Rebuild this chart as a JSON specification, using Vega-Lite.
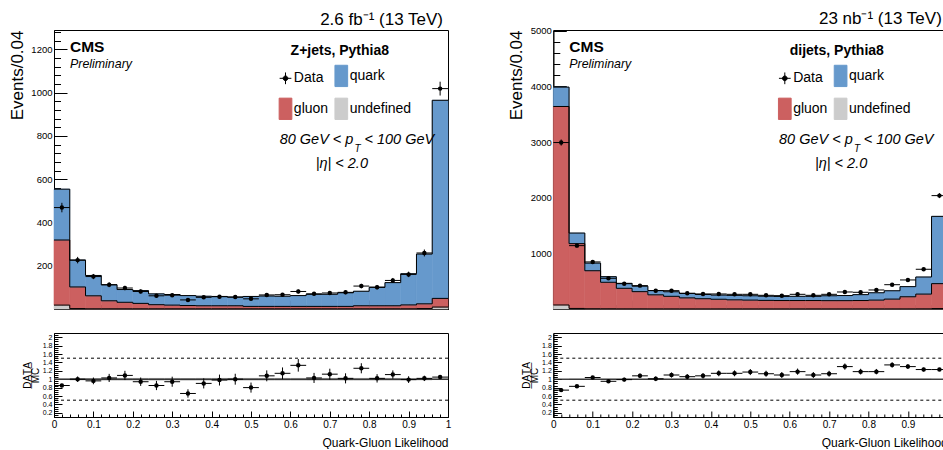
{
"$schema": "https://vega.github.io/schema/vega-lite/v6.json",
"background": "white",
"padding": {"left": 7, "top": 9, "right": 0, "bottom": 0},
"config": {
  "view": {"stroke": "black", "strokeWidth": 1},
  "font": "Liberation Sans",
  "axis": {"domainColor": "black", "domainWidth": 1, "tickColor": "black", "tickWidth": 1, "labelColor": "black", "titleColor": "black", "grid": false, "labelFont": "Liberation Sans", "titleFont": "Liberation Sans", "titleFontWeight": "normal", "labelOverlap": false, "labelFlush": false, "labelBound": false, "tickCount": 200},
  "legend": {"padding": 0},
  "text": {"font": "Liberation Sans", "color": "black"}
},
"datasets": {
  "mcL": [
    {"lo":0,"hi":0.04,"1undefined":18,"2gluon":301,"3quark":235},
    {"lo":0.04,"hi":0.08,"1undefined":2,"2gluon":100,"3quark":124},
    {"lo":0.08,"hi":0.12,"1undefined":1,"2gluon":60,"3quark":94},
    {"lo":0.12,"hi":0.16,"1undefined":1,"2gluon":37,"3quark":74},
    {"lo":0.16,"hi":0.2,"1undefined":1,"2gluon":30,"3quark":59},
    {"lo":0.2,"hi":0.24,"1undefined":1,"2gluon":25,"3quark":59},
    {"lo":0.24,"hi":0.28,"1undefined":1,"2gluon":19,"3quark":50},
    {"lo":0.28,"hi":0.32,"1undefined":1,"2gluon":17,"3quark":49},
    {"lo":0.32,"hi":0.36,"1undefined":1,"2gluon":15,"3quark":46},
    {"lo":0.36,"hi":0.4,"1undefined":1,"2gluon":14,"3quark":44},
    {"lo":0.4,"hi":0.44,"1undefined":1,"2gluon":14,"3quark":43},
    {"lo":0.44,"hi":0.48,"1undefined":1,"2gluon":14,"3quark":40},
    {"lo":0.48,"hi":0.52,"1undefined":1,"2gluon":11,"3quark":46},
    {"lo":0.52,"hi":0.56,"1undefined":1,"2gluon":11,"3quark":48},
    {"lo":0.56,"hi":0.6,"1undefined":1,"2gluon":11,"3quark":47},
    {"lo":0.6,"hi":0.64,"1undefined":1,"2gluon":11,"3quark":50},
    {"lo":0.64,"hi":0.68,"1undefined":1,"2gluon":11,"3quark":56},
    {"lo":0.68,"hi":0.72,"1undefined":1,"2gluon":11,"3quark":56},
    {"lo":0.72,"hi":0.76,"1undefined":1,"2gluon":11,"3quark":63},
    {"lo":0.76,"hi":0.8,"1undefined":1,"2gluon":14,"3quark":67},
    {"lo":0.8,"hi":0.84,"1undefined":1,"2gluon":14,"3quark":85},
    {"lo":0.84,"hi":0.88,"1undefined":1,"2gluon":14,"3quark":107},
    {"lo":0.88,"hi":0.92,"1undefined":1,"2gluon":18,"3quark":144},
    {"lo":0.92,"hi":0.96,"1undefined":2,"2gluon":22,"3quark":230},
    {"lo":0.96,"hi":1,"1undefined":9,"2gluon":40,"3quark":916}
  ],
  "mcR": [
    {"lo":0,"hi":0.04,"1undefined":72,"2gluon":3568,"3quark":348},
    {"lo":0.04,"hi":0.08,"1undefined":10,"2gluon":1165,"3quark":190},
    {"lo":0.08,"hi":0.12,"1undefined":5,"2gluon":683,"3quark":137},
    {"lo":0.12,"hi":0.16,"1undefined":4,"2gluon":476,"3quark":101},
    {"lo":0.16,"hi":0.2,"1undefined":3,"2gluon":369,"3quark":89},
    {"lo":0.2,"hi":0.24,"1undefined":3,"2gluon":309,"3quark":98},
    {"lo":0.24,"hi":0.28,"1undefined":2,"2gluon":253,"3quark":77},
    {"lo":0.28,"hi":0.32,"1undefined":2,"2gluon":226,"3quark":82},
    {"lo":0.32,"hi":0.36,"1undefined":2,"2gluon":198,"3quark":80},
    {"lo":0.36,"hi":0.4,"1undefined":2,"2gluon":183,"3quark":77},
    {"lo":0.4,"hi":0.44,"1undefined":2,"2gluon":173,"3quark":75},
    {"lo":0.44,"hi":0.48,"1undefined":2,"2gluon":163,"3quark":80},
    {"lo":0.48,"hi":0.52,"1undefined":2,"2gluon":158,"3quark":78},
    {"lo":0.52,"hi":0.56,"1undefined":2,"2gluon":153,"3quark":75},
    {"lo":0.56,"hi":0.6,"1undefined":2,"2gluon":150,"3quark":74},
    {"lo":0.6,"hi":0.64,"1undefined":2,"2gluon":150,"3quark":76},
    {"lo":0.64,"hi":0.68,"1undefined":2,"2gluon":150,"3quark":76},
    {"lo":0.68,"hi":0.72,"1undefined":2,"2gluon":148,"3quark":88},
    {"lo":0.72,"hi":0.76,"1undefined":2,"2gluon":148,"3quark":92},
    {"lo":0.76,"hi":0.8,"1undefined":2,"2gluon":150,"3quark":106},
    {"lo":0.8,"hi":0.84,"1undefined":2,"2gluon":158,"3quark":132},
    {"lo":0.84,"hi":0.88,"1undefined":2,"2gluon":176,"3quark":150},
    {"lo":0.88,"hi":0.92,"1undefined":2,"2gluon":218,"3quark":182},
    {"lo":0.92,"hi":0.96,"1undefined":3,"2gluon":265,"3quark":307},
    {"lo":0.96,"hi":1,"1undefined":8,"2gluon":448,"3quark":1209}
  ],
  "dL": [
    {"lo":0,"hi":0.04,"x":0.02,"n":469,"nlo":447,"nhi":491,"r":0.85,"rlo":0.81,"rhi":0.89,"blo":0.98,"bhi":1.02},
    {"lo":0.04,"hi":0.08,"x":0.06,"n":226,"nlo":211,"nhi":241,"r":1.0,"rlo":0.934,"rhi":1.066,"blo":0.975,"bhi":1.025},
    {"lo":0.08,"hi":0.12,"x":0.1,"n":150,"nlo":138,"nhi":162,"r":0.96,"rlo":0.88,"rhi":1.04,"blo":0.97,"bhi":1.03},
    {"lo":0.12,"hi":0.16,"x":0.14,"n":112,"nlo":101,"nhi":123,"r":1.03,"rlo":0.933,"rhi":1.127,"blo":0.97,"bhi":1.03},
    {"lo":0.16,"hi":0.2,"x":0.18,"n":97,"nlo":87,"nhi":107,"r":1.09,"rlo":0.98,"rhi":1.2,"blo":0.97,"bhi":1.03},
    {"lo":0.2,"hi":0.24,"x":0.22,"n":81,"nlo":72,"nhi":90,"r":0.94,"rlo":0.84,"rhi":1.04,"blo":0.97,"bhi":1.03},
    {"lo":0.24,"hi":0.28,"x":0.26,"n":61,"nlo":53,"nhi":69,"r":0.85,"rlo":0.74,"rhi":0.96,"blo":0.97,"bhi":1.03},
    {"lo":0.28,"hi":0.32,"x":0.3,"n":64,"nlo":56,"nhi":72,"r":0.94,"rlo":0.82,"rhi":1.06,"blo":0.97,"bhi":1.03},
    {"lo":0.32,"hi":0.36,"x":0.34,"n":42,"nlo":35.5,"nhi":48.5,"r":0.66,"rlo":0.56,"rhi":0.76,"blo":0.97,"bhi":1.03},
    {"lo":0.36,"hi":0.4,"x":0.38,"n":54,"nlo":46.6,"nhi":61.4,"r":0.9,"rlo":0.78,"rhi":1.02,"blo":0.97,"bhi":1.03},
    {"lo":0.4,"hi":0.44,"x":0.42,"n":57,"nlo":49.5,"nhi":64.5,"r":0.98,"rlo":0.85,"rhi":1.11,"blo":0.97,"bhi":1.03},
    {"lo":0.44,"hi":0.48,"x":0.46,"n":55,"nlo":47.6,"nhi":62.4,"r":1.0,"rlo":0.87,"rhi":1.13,"blo":0.97,"bhi":1.03},
    {"lo":0.48,"hi":0.52,"x":0.5,"n":47,"nlo":40.1,"nhi":53.9,"r":0.8,"rlo":0.68,"rhi":0.92,"blo":0.97,"bhi":1.03},
    {"lo":0.52,"hi":0.56,"x":0.54,"n":65,"nlo":57,"nhi":73,"r":1.08,"rlo":0.95,"rhi":1.21,"blo":0.97,"bhi":1.03},
    {"lo":0.56,"hi":0.6,"x":0.58,"n":66,"nlo":58,"nhi":74,"r":1.14,"rlo":1.0,"rhi":1.28,"blo":0.97,"bhi":1.03},
    {"lo":0.6,"hi":0.64,"x":0.62,"n":81,"nlo":72,"nhi":90,"r":1.33,"rlo":1.18,"rhi":1.48,"blo":0.97,"bhi":1.03},
    {"lo":0.64,"hi":0.68,"x":0.66,"n":70,"nlo":61.6,"nhi":78.4,"r":1.03,"rlo":0.91,"rhi":1.15,"blo":0.97,"bhi":1.03},
    {"lo":0.68,"hi":0.72,"x":0.7,"n":74,"nlo":65.4,"nhi":82.6,"r":1.12,"rlo":0.99,"rhi":1.25,"blo":0.97,"bhi":1.03},
    {"lo":0.72,"hi":0.76,"x":0.74,"n":77,"nlo":68.2,"nhi":85.8,"r":1.02,"rlo":0.9,"rhi":1.14,"blo":0.97,"bhi":1.03},
    {"lo":0.76,"hi":0.8,"x":0.78,"n":106,"nlo":95.7,"nhi":116.3,"r":1.26,"rlo":1.14,"rhi":1.38,"blo":0.97,"bhi":1.03},
    {"lo":0.8,"hi":0.84,"x":0.82,"n":101,"nlo":91,"nhi":111,"r":1.02,"rlo":0.92,"rhi":1.12,"blo":0.97,"bhi":1.03},
    {"lo":0.84,"hi":0.88,"x":0.86,"n":132,"nlo":120.5,"nhi":143.5,"r":1.11,"rlo":1.01,"rhi":1.21,"blo":0.97,"bhi":1.03},
    {"lo":0.88,"hi":0.92,"x":0.9,"n":160,"nlo":147.4,"nhi":172.6,"r":0.99,"rlo":0.91,"rhi":1.07,"blo":0.975,"bhi":1.025},
    {"lo":0.92,"hi":0.96,"x":0.94,"n":259,"nlo":243,"nhi":275,"r":1.02,"rlo":0.956,"rhi":1.084,"blo":0.975,"bhi":1.025},
    {"lo":0.96,"hi":1,"x":0.98,"n":1019,"nlo":987,"nhi":1051,"r":1.05,"rlo":1.017,"rhi":1.083,"blo":0.98,"bhi":1.02}
  ],
  "dR": [
    {"lo":0,"hi":0.04,"x":0.02,"n":2992,"nlo":2937,"nhi":3047,"r":0.74,"rlo":0.726,"rhi":0.754,"blo":0.99,"bhi":1.01},
    {"lo":0.04,"hi":0.08,"x":0.06,"n":1139,"nlo":1105,"nhi":1173,"r":0.83,"rlo":0.805,"rhi":0.855,"blo":0.985,"bhi":1.015},
    {"lo":0.08,"hi":0.12,"x":0.1,"n":846,"nlo":817,"nhi":875,"r":1.04,"rlo":1.004,"rhi":1.076,"blo":0.985,"bhi":1.015},
    {"lo":0.12,"hi":0.16,"x":0.14,"n":552,"nlo":528.5,"nhi":575.5,"r":0.95,"rlo":0.91,"rhi":0.99,"blo":0.985,"bhi":1.015},
    {"lo":0.16,"hi":0.2,"x":0.18,"n":455,"nlo":434,"nhi":476,"r":0.99,"rlo":0.944,"rhi":1.036,"blo":0.985,"bhi":1.015},
    {"lo":0.2,"hi":0.24,"x":0.22,"n":420,"nlo":399.5,"nhi":440.5,"r":1.08,"rlo":1.027,"rhi":1.133,"blo":0.985,"bhi":1.015},
    {"lo":0.24,"hi":0.28,"x":0.26,"n":330,"nlo":312,"nhi":348,"r":1.01,"rlo":0.954,"rhi":1.066,"blo":0.985,"bhi":1.015},
    {"lo":0.28,"hi":0.32,"x":0.3,"n":330,"nlo":312,"nhi":348,"r":1.1,"rlo":1.04,"rhi":1.16,"blo":0.985,"bhi":1.015},
    {"lo":0.32,"hi":0.36,"x":0.34,"n":282,"nlo":265,"nhi":299,"r":1.06,"rlo":0.997,"rhi":1.123,"blo":0.985,"bhi":1.015},
    {"lo":0.36,"hi":0.4,"x":0.38,"n":270,"nlo":253.6,"nhi":286.4,"r":1.08,"rlo":1.014,"rhi":1.146,"blo":0.985,"bhi":1.015},
    {"lo":0.4,"hi":0.44,"x":0.42,"n":270,"nlo":253.6,"nhi":286.4,"r":1.14,"rlo":1.07,"rhi":1.21,"blo":0.985,"bhi":1.015},
    {"lo":0.44,"hi":0.48,"x":0.46,"n":264,"nlo":247.8,"nhi":280.2,"r":1.14,"rlo":1.07,"rhi":1.21,"blo":0.985,"bhi":1.015},
    {"lo":0.48,"hi":0.52,"x":0.5,"n":264,"nlo":247.8,"nhi":280.2,"r":1.17,"rlo":1.098,"rhi":1.242,"blo":0.985,"bhi":1.015},
    {"lo":0.52,"hi":0.56,"x":0.54,"n":246,"nlo":230.3,"nhi":261.7,"r":1.13,"rlo":1.058,"rhi":1.202,"blo":0.985,"bhi":1.015},
    {"lo":0.56,"hi":0.6,"x":0.58,"n":240,"nlo":224.5,"nhi":255.5,"r":1.1,"rlo":1.029,"rhi":1.171,"blo":0.985,"bhi":1.015},
    {"lo":0.6,"hi":0.64,"x":0.62,"n":264,"nlo":247.8,"nhi":280.2,"r":1.18,"rlo":1.107,"rhi":1.253,"blo":0.985,"bhi":1.015},
    {"lo":0.64,"hi":0.68,"x":0.66,"n":246,"nlo":230.3,"nhi":261.7,"r":1.1,"rlo":1.03,"rhi":1.17,"blo":0.985,"bhi":1.015},
    {"lo":0.68,"hi":0.72,"x":0.7,"n":264,"nlo":247.8,"nhi":280.2,"r":1.13,"rlo":1.06,"rhi":1.2,"blo":0.985,"bhi":1.015},
    {"lo":0.72,"hi":0.76,"x":0.74,"n":306,"nlo":288.5,"nhi":323.5,"r":1.3,"rlo":1.226,"rhi":1.374,"blo":0.985,"bhi":1.015},
    {"lo":0.76,"hi":0.8,"x":0.78,"n":300,"nlo":282.7,"nhi":317.3,"r":1.18,"rlo":1.112,"rhi":1.248,"blo":0.985,"bhi":1.015},
    {"lo":0.8,"hi":0.84,"x":0.82,"n":342,"nlo":323.5,"nhi":360.5,"r":1.18,"rlo":1.116,"rhi":1.244,"blo":0.985,"bhi":1.015},
    {"lo":0.84,"hi":0.88,"x":0.86,"n":437,"nlo":416,"nhi":458,"r":1.34,"rlo":1.276,"rhi":1.404,"blo":0.985,"bhi":1.015},
    {"lo":0.88,"hi":0.92,"x":0.9,"n":522,"nlo":499,"nhi":545,"r":1.3,"rlo":1.243,"rhi":1.357,"blo":0.985,"bhi":1.015},
    {"lo":0.92,"hi":0.96,"x":0.94,"n":714,"nlo":687.3,"nhi":740.7,"r":1.23,"rlo":1.184,"rhi":1.276,"blo":0.985,"bhi":1.015},
    {"lo":0.96,"hi":1,"x":0.98,"n":2038,"nlo":1993,"nhi":2083,"r":1.23,"rlo":1.203,"rhi":1.257,"blo":0.99,"bhi":1.01}
  ]
},
"columns": 2,
"spacing": {"row": 24, "column": 105.3},
"bounds": "flush",
"resolve": {"scale": {"color": "independent", "stroke": "independent", "x": "independent", "y": "independent"}, "legend": {"color": "independent"}},
"concat": [
  {
    "width": 394, "height": 279,
    "title": {"text": "2.6 fb⁻¹ (13 TeV)", "anchor": "end", "frame": "group", "fontSize": 17, "fontWeight": "normal", "font": "Liberation Sans", "baseline": "alphabetic", "offset": -15, "dx": -5, "color": "black"},
    "layer": [
      {
        "data": {"name": "mcL"},
        "transform": [
          {"fold": ["1undefined", "2gluon", "3quark"], "as": ["comp", "n"]},
          {"stack": "n", "groupby": ["lo"], "sort": [{"field": "comp", "order": "ascending"}], "as": ["n0", "n1"]}
        ],
        "mark": {"type": "rect", "strokeWidth": 0.6},
        "encoding": {
          "x": {"field": "lo", "type": "quantitative", "scale": {"domain": [0, 1], "nice": false, "zero": false},
            "axis": {"values": [0,0.02,0.04,0.06,0.08,0.1,0.12,0.14,0.16,0.18,0.2,0.22,0.24,0.26,0.28,0.3,0.32,0.34,0.36,0.38,0.4,0.42,0.44,0.46,0.48,0.5,0.52,0.54,0.56,0.58,0.6,0.62,0.64,0.66,0.68,0.7,0.72,0.74,0.76,0.78,0.8,0.82,0.84,0.86,0.88,0.9,0.92,0.94,0.96,0.98,1],
              "labels": false, "title": null, "tickCount": 200,
              "tickSize": {"condition": {"test": "abs(datum.value*10-round(datum.value*10))<0.001", "value": -9}, "value": -4.5}}},
          "x2": {"field": "hi"},
          "y": {"field": "n0", "type": "quantitative", "scale": {"domain": [0, 1290], "nice": false},
            "axis": {"values": [40,80,120,160,200,240,280,320,360,400,440,480,520,560,600,640,680,720,760,800,840,880,920,960,1000,1040,1080,1120,1160,1200,1240,1280],
              "format": "d", "labelExpr": "datum.value % 200 === 0 ? datum.label : ''", "labelFontSize": 9.5, "labelPadding": 15, "tickCount": 200,
              "tickSize": {"condition": {"test": "datum.value % 200 === 0", "value": -13}, "value": -6.5},
              "title": "Events/0.04", "titleFontSize": 17, "titleAnchor": "end", "titleAngle": -90, "titleBaseline": "alphabetic", "titleAlign": "right", "titleX": -31.8, "titleY": 0}},
          "y2": {"field": "n1"},
          "stroke": {"field": "comp", "type": "nominal", "scale": {"domain": ["0Data", "2gluon", "3quark", "1undefined"], "range": ["black", "#cc6060", "#6699cc", "#cccccc"]}, "legend": null},
          "color": {"field": "comp", "type": "nominal",
            "scale": {"domain": ["0Data", "2gluon", "3quark", "1undefined"], "range": ["black", "#cc6060", "#6699cc", "#cccccc"]},
            "legend": {"title": null, "orient": "none", "legendX": 220, "legendY": 34, "columns": 2, "columnPadding": 0.8, "rowPadding": 6.3,
              "symbolType": "M-0.596,-1H0.596V1H-0.596Z", "symbolSize": 454, "symbolStrokeColor": "black", "symbolStrokeWidth": 1, "symbolOpacity": 1,
              "labelFont": "Liberation Sans", "labelFontSize": 14, "labelColor": "black", "labelOffset": -3.15, "labelExpr": "substring(datum.label, 1)",
              "encode": {"symbols": {"update": {"stroke": {"value": "black"}, "shape": {"signal": "datum.value === '0Data' ? 'M-0.55,0H0.55M0,-0.55V0.55M0.22,0A0.22,0.22 0 1,1 -0.22,0A0.22,0.22 0 1,1 0.22,0Z' : 'M-0.596,-1H0.596V1H-0.596Z'"}}}}}}
        }
      },
      {
        "data": {"name": "mcL"},
        "transform": [
          {"fold": ["1undefined", "2gluon", "3quark"], "as": ["comp", "n"]},
          {"stack": "n", "groupby": ["lo"], "sort": [{"field": "comp", "order": "ascending"}], "as": ["n0", "n1"]},
          {"fold": ["lo", "hi"], "as": ["edge", "xe"]}
        ],
        "mark": {"type": "line", "color": "black", "strokeWidth": 1},
        "encoding": {
          "x": {"field": "xe", "type": "quantitative"},
          "y": {"field": "n1", "type": "quantitative"},
          "detail": {"field": "comp", "type": "nominal"},
          "order": [{"field": "xe", "type": "quantitative"}, {"field": "edge", "type": "nominal"}]
        }
      },
      {
        "data": {"name": "dL"},
        "mark": {"type": "rule", "color": "black", "strokeWidth": 1},
        "encoding": {"x": {"field": "lo", "type": "quantitative"}, "x2": {"field": "hi"}, "y": {"field": "n", "type": "quantitative"}}
      },
      {
        "data": {"name": "dL"},
        "mark": {"type": "rule", "color": "black", "strokeWidth": 1},
        "encoding": {"x": {"field": "x", "type": "quantitative"}, "y": {"field": "nlo", "type": "quantitative"}, "y2": {"field": "nhi"}}
      },
      {
        "data": {"name": "dL"},
        "mark": {"type": "circle", "color": "black", "opacity": 1, "size": 20},
        "encoding": {"x": {"field": "x", "type": "quantitative"}, "y": {"field": "n", "type": "quantitative"}}
      },
      {"data": {"values": [{}]}, "mark": {"type": "text", "text": "CMS", "align": "left", "baseline": "alphabetic", "fontSize": 15.5, "fontWeight": "bold"}, "encoding": {"x": {"datum": 0.0406}, "y": {"datum": 1187}}},
      {"data": {"values": [{}]}, "mark": {"type": "text", "text": "Preliminary", "align": "left", "baseline": "alphabetic", "fontSize": 12.4, "fontStyle": "italic"}, "encoding": {"x": {"datum": 0.0406}, "y": {"datum": 1116}}},
      {"data": {"values": [{}]}, "mark": {"type": "text", "text": "Z+jets, Pythia8", "align": "center", "baseline": "alphabetic", "fontSize": 14, "fontWeight": "bold"}, "encoding": {"x": {"datum": 0.7254}, "y": {"datum": 1174}}},
      {"data": {"values": [{}]}, "mark": {"type": "text", "text": "80 GeV < p", "align": "right", "baseline": "alphabetic", "fontSize": 14.5, "fontStyle": "italic"}, "encoding": {"x": {"datum": 0.760}, "y": {"datum": 763}}},
      {"data": {"values": [{}]}, "mark": {"type": "text", "text": "T", "align": "left", "baseline": "alphabetic", "fontSize": 10, "fontStyle": "italic"}, "encoding": {"x": {"datum": 0.763}, "y": {"datum": 726}}},
      {"data": {"values": [{}]}, "mark": {"type": "text", "text": "< 100 GeV", "align": "left", "baseline": "alphabetic", "fontSize": 14.5, "fontStyle": "italic"}, "encoding": {"x": {"datum": 0.788}, "y": {"datum": 763}}},
      {"data": {"values": [{}]}, "mark": {"type": "text", "text": "|η| < 2.0", "align": "center", "baseline": "alphabetic", "fontSize": 14.5, "fontStyle": "italic"}, "encoding": {"x": {"datum": 0.7305}, "y": {"datum": 651}}}
    ]
  },
  {
    "width": 394, "height": 279,
    "title": {"text": "23 nb⁻¹ (13 TeV)", "anchor": "end", "frame": "group", "fontSize": 17, "fontWeight": "normal", "font": "Liberation Sans", "baseline": "alphabetic", "offset": -15, "dx": -5.5, "color": "black"},
    "layer": [
      {
        "data": {"name": "mcR"},
        "transform": [
          {"fold": ["1undefined", "2gluon", "3quark"], "as": ["comp", "n"]},
          {"stack": "n", "groupby": ["lo"], "sort": [{"field": "comp", "order": "ascending"}], "as": ["n0", "n1"]}
        ],
        "mark": {"type": "rect", "strokeWidth": 0.6},
        "encoding": {
          "x": {"field": "lo", "type": "quantitative", "scale": {"domain": [0, 1], "nice": false, "zero": false},
            "axis": {"values": [0,0.02,0.04,0.06,0.08,0.1,0.12,0.14,0.16,0.18,0.2,0.22,0.24,0.26,0.28,0.3,0.32,0.34,0.36,0.38,0.4,0.42,0.44,0.46,0.48,0.5,0.52,0.54,0.56,0.58,0.6,0.62,0.64,0.66,0.68,0.7,0.72,0.74,0.76,0.78,0.8,0.82,0.84,0.86,0.88,0.9,0.92,0.94,0.96,0.98,1],
              "labels": false, "title": null, "tickCount": 200,
              "tickSize": {"condition": {"test": "abs(datum.value*10-round(datum.value*10))<0.001", "value": -9}, "value": -4.5}}},
          "x2": {"field": "hi"},
          "y": {"field": "n0", "type": "quantitative", "scale": {"domain": [0, 5015], "nice": false},
            "axis": {"values": [200,400,600,800,1000,1200,1400,1600,1800,2000,2200,2400,2600,2800,3000,3200,3400,3600,3800,4000,4200,4400,4600,4800,5000],
              "format": "d", "labelExpr": "datum.value % 1000 === 0 ? datum.label : ''", "labelFontSize": 9.5, "labelPadding": 15, "tickCount": 200,
              "tickSize": {"condition": {"test": "datum.value % 1000 === 0", "value": -13}, "value": -6.5},
              "title": "Events/0.04", "titleFontSize": 17, "titleAnchor": "end", "titleAngle": -90, "titleBaseline": "alphabetic", "titleAlign": "right", "titleX": -31.8, "titleY": 0}},
          "y2": {"field": "n1"},
          "stroke": {"field": "comp", "type": "nominal", "scale": {"domain": ["0Data", "2gluon", "3quark", "1undefined"], "range": ["black", "#cc6060", "#6699cc", "#cccccc"]}, "legend": null},
          "color": {"field": "comp", "type": "nominal",
            "scale": {"domain": ["0Data", "2gluon", "3quark", "1undefined"], "range": ["black", "#cc6060", "#6699cc", "#cccccc"]},
            "legend": {"title": null, "orient": "none", "legendX": 220, "legendY": 34, "columns": 2, "columnPadding": 0.8, "rowPadding": 6.3,
              "symbolType": "M-0.596,-1H0.596V1H-0.596Z", "symbolSize": 454, "symbolStrokeColor": "black", "symbolStrokeWidth": 1, "symbolOpacity": 1,
              "labelFont": "Liberation Sans", "labelFontSize": 14, "labelColor": "black", "labelOffset": -3.15, "labelExpr": "substring(datum.label, 1)",
              "encode": {"symbols": {"update": {"stroke": {"value": "black"}, "shape": {"signal": "datum.value === '0Data' ? 'M-0.55,0H0.55M0,-0.55V0.55M0.22,0A0.22,0.22 0 1,1 -0.22,0A0.22,0.22 0 1,1 0.22,0Z' : 'M-0.596,-1H0.596V1H-0.596Z'"}}}}}}
        }
      },
      {
        "data": {"name": "mcR"},
        "transform": [
          {"fold": ["1undefined", "2gluon", "3quark"], "as": ["comp", "n"]},
          {"stack": "n", "groupby": ["lo"], "sort": [{"field": "comp", "order": "ascending"}], "as": ["n0", "n1"]},
          {"fold": ["lo", "hi"], "as": ["edge", "xe"]}
        ],
        "mark": {"type": "line", "color": "black", "strokeWidth": 1},
        "encoding": {
          "x": {"field": "xe", "type": "quantitative"},
          "y": {"field": "n1", "type": "quantitative"},
          "detail": {"field": "comp", "type": "nominal"},
          "order": [{"field": "xe", "type": "quantitative"}, {"field": "edge", "type": "nominal"}]
        }
      },
      {
        "data": {"name": "dR"},
        "mark": {"type": "rule", "color": "black", "strokeWidth": 1},
        "encoding": {"x": {"field": "lo", "type": "quantitative"}, "x2": {"field": "hi"}, "y": {"field": "n", "type": "quantitative"}}
      },
      {
        "data": {"name": "dR"},
        "mark": {"type": "rule", "color": "black", "strokeWidth": 1},
        "encoding": {"x": {"field": "x", "type": "quantitative"}, "y": {"field": "nlo", "type": "quantitative"}, "y2": {"field": "nhi"}}
      },
      {
        "data": {"name": "dR"},
        "mark": {"type": "circle", "color": "black", "opacity": 1, "size": 20},
        "encoding": {"x": {"field": "x", "type": "quantitative"}, "y": {"field": "n", "type": "quantitative"}}
      },
      {"data": {"values": [{}]}, "mark": {"type": "text", "text": "CMS", "align": "left", "baseline": "alphabetic", "fontSize": 15.5, "fontWeight": "bold"}, "encoding": {"x": {"datum": 0.0406}, "y": {"datum": 4614}}},
      {"data": {"values": [{}]}, "mark": {"type": "text", "text": "Preliminary", "align": "left", "baseline": "alphabetic", "fontSize": 12.4, "fontStyle": "italic"}, "encoding": {"x": {"datum": 0.0406}, "y": {"datum": 4337}}},
      {"data": {"values": [{}]}, "mark": {"type": "text", "text": "dijets, Pythia8", "align": "center", "baseline": "alphabetic", "fontSize": 14, "fontWeight": "bold"}, "encoding": {"x": {"datum": 0.7195}, "y": {"datum": 4566}}},
      {"data": {"values": [{}]}, "mark": {"type": "text", "text": "80 GeV < p", "align": "right", "baseline": "alphabetic", "fontSize": 14.5, "fontStyle": "italic"}, "encoding": {"x": {"datum": 0.760}, "y": {"datum": 2966}}},
      {"data": {"values": [{}]}, "mark": {"type": "text", "text": "T", "align": "left", "baseline": "alphabetic", "fontSize": 10, "fontStyle": "italic"}, "encoding": {"x": {"datum": 0.763}, "y": {"datum": 2822}}},
      {"data": {"values": [{}]}, "mark": {"type": "text", "text": "< 100 GeV", "align": "left", "baseline": "alphabetic", "fontSize": 14.5, "fontStyle": "italic"}, "encoding": {"x": {"datum": 0.788}, "y": {"datum": 2966}}},
      {"data": {"values": [{}]}, "mark": {"type": "text", "text": "|η| < 2.0", "align": "center", "baseline": "alphabetic", "fontSize": 14.5, "fontStyle": "italic"}, "encoding": {"x": {"datum": 0.7305}, "y": {"datum": 2529}}}
    ]
  },
  {
    "width": 394, "height": 84,
    "layer": [
      {
        "data": {"name": "dL"},
        "mark": {"type": "rect", "color": "#aaaaaa"},
        "encoding": {
          "x": {"field": "lo", "type": "quantitative", "scale": {"domain": [0, 1], "nice": false, "zero": false},
            "axis": {"values": [0,0.02,0.04,0.06,0.08,0.1,0.12,0.14,0.16,0.18,0.2,0.22,0.24,0.26,0.28,0.3,0.32,0.34,0.36,0.38,0.4,0.42,0.44,0.46,0.48,0.5,0.52,0.54,0.56,0.58,0.6,0.62,0.64,0.66,0.68,0.7,0.72,0.74,0.76,0.78,0.8,0.82,0.84,0.86,0.88,0.9,0.92,0.94,0.96,0.98,1],
              "labelExpr": "abs(datum.value*10-round(datum.value*10))<0.001 ? format(datum.value, '.1~f') : ''", "labelFontSize": 10, "labelPadding": 8, "tickCount": 200,
              "tickSize": {"condition": {"test": "abs(datum.value*10-round(datum.value*10))<0.001", "value": -6}, "value": -3},
              "title": "Quark-Gluon Likelihood", "titleFontSize": 12, "titleAnchor": "end", "titleAlign": "right", "titleBaseline": "alphabetic", "titleX": 394, "titleY": 29.5}},
          "x2": {"field": "hi"},
          "y": {"field": "blo", "type": "quantitative", "scale": {"domain": [0.1, 2.1], "nice": false, "zero": false},
            "axis": {"values": [0.15,0.2,0.25,0.3,0.35,0.4,0.45,0.5,0.55,0.6,0.65,0.7,0.75,0.8,0.85,0.9,0.95,1,1.05,1.1,1.15,1.2,1.25,1.3,1.35,1.4,1.45,1.5,1.55,1.6,1.65,1.7,1.75,1.8,1.85,1.9,1.95,2,2.05],
              "labelExpr": "abs(datum.value*5-round(datum.value*5))<0.001 ? format(datum.value, '.1~f') : ''", "labelFontSize": 7, "labelPadding": 10, "tickCount": 200,
              "tickSize": {"condition": {"test": "abs(datum.value*5-round(datum.value*5))<0.001", "value": -8}, "value": -4},
              "title": ["D\u0332A\u0332T\u0332A\u0332", "MC"], "titleFontSize": 10, "titleAngle": -90, "titleAlign": "center", "titleBaseline": "middle", "titleX": -26.5, "titleY": 42, "titleLineHeight": 8}},
          "y2": {"field": "bhi"}
        }
      },
      {"data": {"values": [{}]}, "mark": {"type": "rule", "color": "black", "strokeWidth": 1}, "encoding": {"y": {"datum": 1}}},
      {"data": {"values": [{}]}, "mark": {"type": "rule", "color": "black", "strokeWidth": 1, "strokeDash": [3, 3]}, "encoding": {"y": {"datum": 0.5}}},
      {"data": {"values": [{}]}, "mark": {"type": "rule", "color": "black", "strokeWidth": 1, "strokeDash": [3, 3]}, "encoding": {"y": {"datum": 1.5}}},
      {
        "data": {"name": "dL"},
        "mark": {"type": "rule", "color": "black", "strokeWidth": 1},
        "encoding": {"x": {"field": "lo", "type": "quantitative"}, "x2": {"field": "hi"}, "y": {"field": "r", "type": "quantitative"}}
      },
      {
        "data": {"name": "dL"},
        "mark": {"type": "rule", "color": "black", "strokeWidth": 1},
        "encoding": {"x": {"field": "x", "type": "quantitative"}, "y": {"field": "rlo", "type": "quantitative"}, "y2": {"field": "rhi"}}
      },
      {
        "data": {"name": "dL"},
        "mark": {"type": "circle", "color": "black", "opacity": 1, "size": 20},
        "encoding": {"x": {"field": "x", "type": "quantitative"}, "y": {"field": "r", "type": "quantitative"}}
      }
    ]
  },
  {
    "width": 394, "height": 84,
    "layer": [
      {
        "data": {"name": "dR"},
        "mark": {"type": "rect", "color": "#aaaaaa"},
        "encoding": {
          "x": {"field": "lo", "type": "quantitative", "scale": {"domain": [0, 1], "nice": false, "zero": false},
            "axis": {"values": [0,0.02,0.04,0.06,0.08,0.1,0.12,0.14,0.16,0.18,0.2,0.22,0.24,0.26,0.28,0.3,0.32,0.34,0.36,0.38,0.4,0.42,0.44,0.46,0.48,0.5,0.52,0.54,0.56,0.58,0.6,0.62,0.64,0.66,0.68,0.7,0.72,0.74,0.76,0.78,0.8,0.82,0.84,0.86,0.88,0.9,0.92,0.94,0.96,0.98,1],
              "labelExpr": "abs(datum.value*10-round(datum.value*10))<0.001 ? format(datum.value, '.1~f') : ''", "labelFontSize": 10, "labelPadding": 8, "tickCount": 200,
              "tickSize": {"condition": {"test": "abs(datum.value*10-round(datum.value*10))<0.001", "value": -6}, "value": -3},
              "title": "Quark-Gluon Likelihood", "titleFontSize": 12, "titleAnchor": "end", "titleAlign": "right", "titleBaseline": "alphabetic", "titleX": 394, "titleY": 29.5}},
          "x2": {"field": "hi"},
          "y": {"field": "blo", "type": "quantitative", "scale": {"domain": [0.1, 2.1], "nice": false, "zero": false},
            "axis": {"values": [0.15,0.2,0.25,0.3,0.35,0.4,0.45,0.5,0.55,0.6,0.65,0.7,0.75,0.8,0.85,0.9,0.95,1,1.05,1.1,1.15,1.2,1.25,1.3,1.35,1.4,1.45,1.5,1.55,1.6,1.65,1.7,1.75,1.8,1.85,1.9,1.95,2,2.05],
              "labelExpr": "abs(datum.value*5-round(datum.value*5))<0.001 ? format(datum.value, '.1~f') : ''", "labelFontSize": 7, "labelPadding": 10, "tickCount": 200,
              "tickSize": {"condition": {"test": "abs(datum.value*5-round(datum.value*5))<0.001", "value": -8}, "value": -4},
              "title": ["D\u0332A\u0332T\u0332A\u0332", "MC"], "titleFontSize": 10, "titleAngle": -90, "titleAlign": "center", "titleBaseline": "middle", "titleX": -26.5, "titleY": 42, "titleLineHeight": 8}},
          "y2": {"field": "bhi"}
        }
      },
      {"data": {"values": [{}]}, "mark": {"type": "rule", "color": "black", "strokeWidth": 1}, "encoding": {"y": {"datum": 1}}},
      {"data": {"values": [{}]}, "mark": {"type": "rule", "color": "black", "strokeWidth": 1, "strokeDash": [3, 3]}, "encoding": {"y": {"datum": 0.5}}},
      {"data": {"values": [{}]}, "mark": {"type": "rule", "color": "black", "strokeWidth": 1, "strokeDash": [3, 3]}, "encoding": {"y": {"datum": 1.5}}},
      {
        "data": {"name": "dR"},
        "mark": {"type": "rule", "color": "black", "strokeWidth": 1},
        "encoding": {"x": {"field": "lo", "type": "quantitative"}, "x2": {"field": "hi"}, "y": {"field": "r", "type": "quantitative"}}
      },
      {
        "data": {"name": "dR"},
        "mark": {"type": "rule", "color": "black", "strokeWidth": 1},
        "encoding": {"x": {"field": "x", "type": "quantitative"}, "y": {"field": "rlo", "type": "quantitative"}, "y2": {"field": "rhi"}}
      },
      {
        "data": {"name": "dR"},
        "mark": {"type": "circle", "color": "black", "opacity": 1, "size": 20},
        "encoding": {"x": {"field": "x", "type": "quantitative"}, "y": {"field": "r", "type": "quantitative"}}
      }
    ]
  }
]
}
